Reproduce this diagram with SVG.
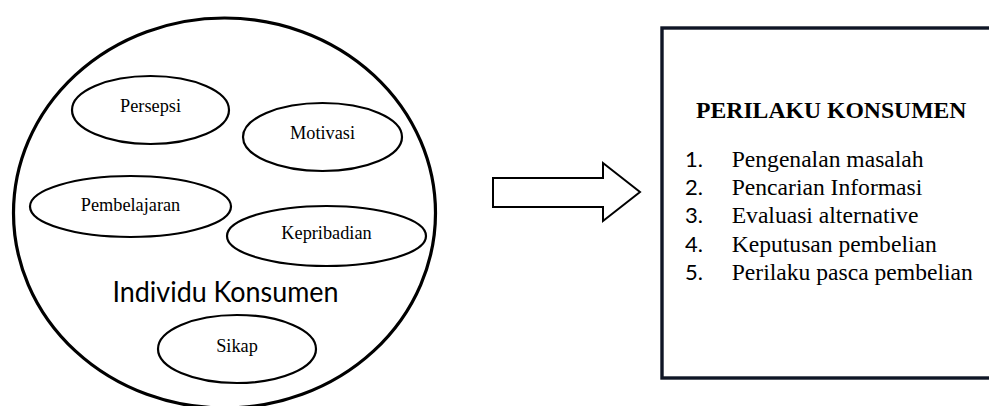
<svg xmlns="http://www.w3.org/2000/svg" width="989" height="406" viewBox="0 0 989 406">
  <style>
    .outer { fill: #ffffff; stroke: #000000; stroke-width: 3.2; }
    .oval { fill: #ffffff; stroke: #000000; stroke-width: 2.2; }
    .lbl { font-family: "Liberation Serif", "Times New Roman", serif; font-size: 18.3px; fill: #000000; text-anchor: middle; }
    .big { font-family: Lato, "Open Sans", "Liberation Sans", sans-serif; font-size: 28px; fill: #000000; }
    .box { fill: #ffffff; stroke: #0f1626; stroke-width: 3.4; }
    .title { font-family: "Liberation Serif", "Times New Roman", serif; font-size: 23.7px; font-weight: bold; fill: #000000; }
    .num { font-family: Lato, "Open Sans", "Liberation Sans", sans-serif; font-size: 22px; fill: #000000; }
    .item { font-family: "Liberation Serif", "Times New Roman", serif; font-size: 23.6px; fill: #000000; }
    .arrow { fill: #ffffff; stroke: #000000; stroke-width: 2; stroke-linejoin: miter; }
  </style>
  <rect width="989" height="406" fill="#ffffff"/>

  <g id="individu-konsumen">
    <ellipse class="outer" cx="224.5" cy="213" rx="211" ry="195"/>
    <text class="big" x="112.5" y="301.7" textLength="226" lengthAdjust="spacingAndGlyphs">Individu Konsumen</text>
  </g>

  <g id="persepsi">
    <ellipse class="oval" cx="150.5" cy="110" rx="78.5" ry="34"/>
    <text class="lbl" x="150.5" y="111.7">Persepsi</text>
  </g>

  <g id="motivasi">
    <ellipse class="oval" cx="322.5" cy="137" rx="79.5" ry="34"/>
    <text class="lbl" x="322.5" y="139">Motivasi</text>
  </g>

  <g id="pembelajaran">
    <ellipse class="oval" cx="130.5" cy="206.5" rx="100.5" ry="30.5"/>
    <text class="lbl" x="130.5" y="210.7">Pembelajaran</text>
  </g>

  <g id="kepribadian">
    <ellipse class="oval" cx="326.5" cy="236" rx="99.5" ry="30"/>
    <text class="lbl" x="326.5" y="239.3">Kepribadian</text>
  </g>

  <g id="sikap">
    <ellipse class="oval" cx="237" cy="349" rx="79" ry="34"/>
    <text class="lbl" x="237" y="351.7">Sikap</text>
  </g>

  <g id="connectors">
    <polygon class="arrow" points="493,178 603,178 603,163 640,192 603,221 603,207 493,207"/>
  </g>

  <g id="perilaku-konsumen">
    <rect class="box" x="662" y="28" width="340" height="350"/>
    <text class="title" x="696" y="117.7">PERILAKU KONSUMEN</text>
    <text class="num" x="685" y="166.7">1.</text>
    <text class="item" x="731.7" y="166.7">Pengenalan masalah</text>
    <text class="num" x="685" y="195">2.</text>
    <text class="item" x="731.7" y="195">Pencarian Informasi</text>
    <text class="num" x="685" y="223.3">3.</text>
    <text class="item" x="731.7" y="223.3">Evaluasi alternative</text>
    <text class="num" x="685" y="251.7">4.</text>
    <text class="item" x="731.7" y="251.7">Keputusan pembelian</text>
    <text class="num" x="685" y="280">5.</text>
    <text class="item" x="731.7" y="280">Perilaku pasca pembelian</text>
  </g>
</svg>
